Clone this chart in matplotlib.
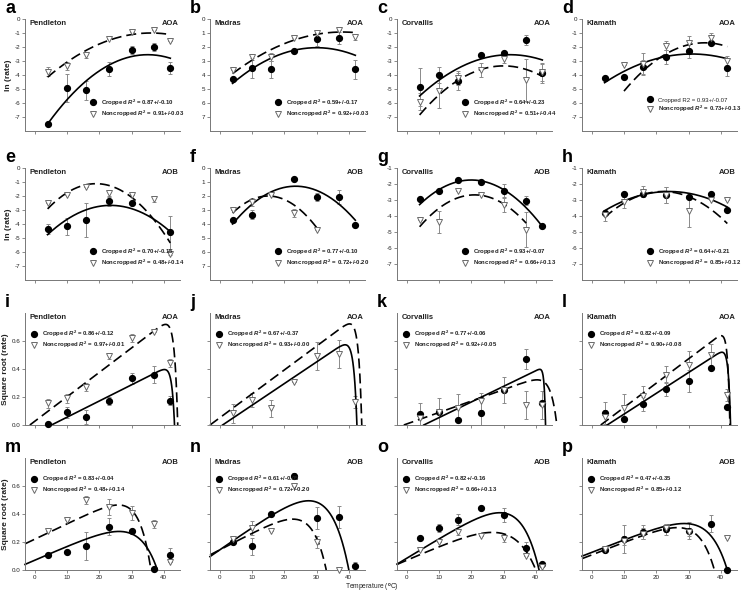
import numpy as np
import matplotlib
matplotlib.use('Agg')
import matplotlib.pyplot as plt

plt.rcParams['font.family'] = ['Liberation Sans', 'DejaVu Sans']
plt.rcParams['mathtext.fontset'] = 'custom'
plt.rcParams['mathtext.it'] = 'Liberation Sans:italic:bold'
plt.rcParams['mathtext.rm'] = 'Liberation Sans:bold'

nan = np.nan
temps = [4, 10, 16, 23, 30, 37, 42]

# ---- row 1: ln(rate), AOA ----
a_crop = [-7.5, -4.95, -5.1, -3.55, -2.2, -2.0, -3.5]
a_crop_err = [0, 1.0, 0.7, 0.5, 0.3, 0.3, 0.45]
a_non = [-3.75, -3.35, -2.55, -1.45, -0.95, -0.8, -1.6]
a_non_err = [0.35, 0.3, 0.2, 0, 0, 0, 0]

b_crop = [-4.25, -3.5, -3.6, -2.3, -1.45, -1.35, -3.6]
b_crop_err = [0, 0.7, 0.6, 0, 0.45, 0.4, 0.7]
b_non = [-3.65, -2.7, -2.7, -1.35, -1.0, -0.75, -1.3]
b_non_err = [0, 0.2, 0.3, 0, 0, 0, 0.2]

c_crop = [-4.85, -4.0, -4.45, -2.6, -2.45, -1.5, -3.85]
c_crop_err = [1.35, 0.6, 0.6, 0, 0, 0.35, 0.7]
c_non = [-5.9, -5.15, -4.2, -3.65, -2.85, -4.35, -3.8]
c_non_err = [0.6, 1.2, 0.5, 0.5, 0.3, 1.5, 0.6]

d_crop = [-4.2, -4.15, -3.4, -2.7, -2.3, -1.7, -3.5]
d_crop_err = [0, 0, 0.5, 0.5, 0.5, 0, 0.6]
d_non = [nan, -3.3, -3.2, -1.9, -1.7, -1.35, -3.0]
d_non_err = [0, 0, 0.8, 0.3, 0.5, 0.35, 0.35]

# ---- row 2: ln(rate), AOB ----
e_crop = [-4.33, -4.17, -3.7, -2.38, -2.5, nan, -4.6]
e_crop_err = [0.35, 0.6, 1.2, 0.3, 0, 0, 1.2]
e_non = [-2.5, -1.95, -1.38, -1.8, -1.95, -2.2, -6.15]
e_non_err = [0, 0, 0, 0.2, 0, 0.2, 0.1]

f_crop = [-3.68, -3.33, nan, -0.78, -2.07, -2.07, -4.04]
f_crop_err = [0, 0.3, 0, 0, 0.3, 0.5, 0]
f_non = [-3.0, -2.45, -1.9, -3.2, -4.4, nan, nan]
f_non_err = [0, 0.3, 0, 0.3, 0, 0, 0]

g_crop = [-2.93, -2.41, -1.78, -1.88, -2.41, -3.04, -4.64]
g_crop_err = [0, 0, 0, 0, 0.4, 0.3, 0]
g_non = [-4.26, -4.37, -2.43, -2.68, -3.32, -4.85, nan]
g_non_err = [0, 0.7, 0, 0, 0.45, 1.1, 0]

h_crop = [-3.84, -2.64, -2.64, -2.68, -2.83, -2.64, -3.63]
h_crop_err = [0, 0, 0, 0.5, 0, 0, 0]
h_non = [-3.95, -3.15, -2.47, -2.68, -3.69, -3.0, -3.0]
h_non_err = [0.35, 0.35, 0.35, 0.5, 1.0, 0, 0]

# ---- row 3: square root (rate), AOA ----
i_crop = [0.005, 0.09, 0.055, 0.17, 0.335, 0.36, 0.175]
i_crop_err = [0, 0.04, 0.05, 0.03, 0.04, 0.06, 0.03]
i_non = [0.155, 0.19, 0.27, 0.49, 0.62, 0.665, 0.445]
i_non_err = [0.03, 0.03, 0.03, 0.02, 0.03, 0, 0.03]

j_crop = [nan] * 7
j_crop_err = [0] * 7
j_non = [0.083, 0.178, 0.12, 0.31, 0.49, 0.51, 0.165]
j_non_err = [0.07, 0.05, 0.06, 0, 0.1, 0.1, 0.04]

k_crop = [0.076, 0.09, 0.036, 0.088, 0.25, 0.47, 0.155]
k_crop_err = [0.08, 0, 0, 0.1, 0, 0.07, 0]
k_non = [0.048, 0.09, 0.125, 0.17, 0.25, 0.14, 0.145]
k_non_err = [0, 0.1, 0.1, 0.06, 0.09, 0.1, 0.1]

l_crop = [0.083, 0.04, 0.147, 0.257, 0.316, 0.41, 0.13]
l_crop_err = [0.08, 0, 0.05, 0.05, 0.08, 0, 0]
l_non = [0.06, 0.12, 0.207, 0.36, 0.43, 0.5, 0.214]
l_non_err = [0.05, 0.1, 0.07, 0.06, 0.1, 0.08, 0.04]

# ---- row 4: square root (rate), AOB ----
m_crop = [0.11, 0.13, 0.17, 0.31, 0.28, 0.01, 0.11]
m_crop_err = [0, 0, 0.1, 0.06, 0, 0, 0.05]
m_non = [0.28, 0.36, 0.5, 0.45, 0.41, 0.33, 0.06]
m_non_err = [0, 0, 0.03, 0.06, 0.05, 0.03, 0]

n_crop = [0.2, 0.17, 0.4, 0.67, 0.37, 0.38, 0.03]
n_crop_err = [0, 0.06, 0, 0.02, 0.08, 0.08, 0.03]
n_non = [0.22, 0.3, 0.28, 0.6, 0.2, 0.0, nan]
n_non_err = [0, 0.05, 0, 0, 0.04, 0, 0]

o_crop = [0.23, 0.3, 0.36, 0.44, 0.39, 0.16, 0.04]
o_crop_err = [0, 0.03, 0.04, 0, 0.05, 0.04, 0]
o_non = [0.14, 0.2, 0.27, 0.24, 0.23, 0.1, 0.02]
o_non_err = [0, 0, 0.02, 0, 0.03, 0, 0]

p_crop = [0.14, 0.22, 0.27, 0.29, 0.28, 0.33, 0.0]
p_crop_err = [0, 0.1, 0.05, 0.04, 0.06, 0.06, 0]
p_non = [0.15, 0.21, 0.26, 0.3, 0.27, nan, 0.23]
p_non_err = [0, 0.03, 0.04, 0.03, 0.03, 0, 0]

# fitted curves: ln panels -> (T at peak, peak value, curvature)
ln_fit_crop = {'a': (35, -2.55, 0.00515), 'b': (30, -2.05, 0.00377),
               'c': (32, -2.55, 0.00376), 'd': (31, -2.5, 0.00281),
               'e': (23.5, -2.67, 0.0055), 'f': (23.5, -1.3, 0.0071),
               'g': (20, -1.75, 0.006), 'h': (24, -2.47, 0.003)}
ln_fit_non = {'a': (36, -1.0, 0.00308), 'b': (38, -0.93, 0.00257),
              'c': (30, -3.35, 0.00518), 'd': (35, -1.7, 0.00552),
              'e': (19, -1.12, 0.008), 'f': (15, -2.0, 0.01),
              'g': (21, -2.68, 0.0069), 'h': (22, -2.47, 0.005)}
# sqrt panels -> Ratkowsky (b, Tmin, c, Tmax)
sq_fit_crop = {'i': (0.0116, 5.2, 1.2, 43.3), 'j': (0.0155, 0.9, 1.0, 42.5),
               'k': (0.0112, 5.3, 2.5, 43.0), 'l': (0.0149, 4.8, 1.5, 43.0),
               'm': (0.010, -7, 0.15, 38), 'n': (0.016, -9, 0.15, 40),
               'o': (0.014, -6, 0.15, 41), 'p': (0.009, -14, 0.15, 42)}
sq_fit_non = {'i': (0.0175, -1.5, 1.0, 44.3), 'j': (0.0171, -3, 1.0, 44.0),
              'k': (0.0082, -0.9, 0.5, 46.5), 'l': (0.0174, 2.8, 1.5, 42.8),
              'm': (0.011, -20, 0.25, 36), 'n': (0.012, -12, 0.2, 33),
              'o': (0.010, -7, 0.12, 40), 'p': (0.009, -12, 0.18, 38)}

r2_crop = ['0.87+/-0.10', '0.59+/-0.17', '0.64+/-0.23', '0.93+/-0.07',
           '0.70+/-0.15', '0.77+/-0.10', '0.93+/-0.07', '0.64+/-0.21',
           '0.86+/-0.12', '0.67+/-0.37', '0.77+/-0.06', '0.82+/-0.09',
           '0.83+/-0.04', '0.61+/-0.05', '0.82+/-0.16', '0.47+/-0.35']
r2_non = ['0.91+/-0.03', '0.92+/-0.03', '0.51+/-0.44', '0.73+/-0.13',
          '0.48+/-0.14', '0.72+/-0.20', '0.66+/-0.13', '0.85+/-0.12',
          '0.97+/-0.01', '0.93+/-0.00', '0.92+/-0.05', '0.90+/-0.08',
          '0.48+/-0.14', '0.72+/-0.20', '0.66+/-0.13', '0.85+/-0.12']

letters = 'abcdefghijklmnop'
sites = ['Pendleton', 'Madras', 'Corvallis', 'Klamath']
groups = ['AOA', 'AOB', 'AOA', 'AOB']

data = {}
for L in letters:
    g = globals()
    data[L] = (g[L + '_crop'], g[L + '_crop_err'], g[L + '_non'], g[L + '_non_err'])

W, H = 745, 593
fig = plt.figure(figsize=(W / 100, H / 100), dpi=100)

col_left = [25, 210, 397, 582]
row_top = [19, 168, 313, 458]
ax_w, ax_h = 155, 112
XLIM = (-3, 45)
TXT = '#222222'

for idx, L in enumerate(letters):
    r, c = divmod(idx, 4)
    left = col_left[c] / W
    bottom = 1 - (row_top[r] + ax_h) / H
    ax = fig.add_axes([left, bottom, ax_w / W, ax_h / H])
    crop, crop_err, non, non_err = data[L]
    T = np.array(temps, dtype=float)
    crop = np.array(crop, dtype=float)
    non = np.array(non, dtype=float)

    # fitted curves
    for vals, fits, ls in ((crop, ln_fit_crop if r < 2 else sq_fit_crop, '-'),
                           (non, ln_fit_non if r < 2 else sq_fit_non, '--')):
        p = fits[L]
        if r < 2:
            ok = ~np.isnan(vals)
            xs = np.linspace(T[ok].min(), T[ok].max(), 200)
            ys = p[1] - p[2] * (xs - p[0]) ** 2
        else:
            b, tmin, cc, tmax = p
            xs = np.linspace(max(tmin, XLIM[0]), tmax, 400)
            ys = b * (xs - tmin) * (1 - np.exp(cc * (xs - tmax)))
            ys = np.clip(ys, 0, None)
        line, = ax.plot(xs, ys, color='black', lw=1.2, ls=ls, clip_on=False, zorder=2)
        if ls == '--':
            line.set_dashes((6, 3))

    ax.errorbar(T, crop, yerr=crop_err, fmt='none', ecolor='#8a8a8a',
                elinewidth=0.7, capsize=1.5, capthick=0.7, zorder=1)
    ax.errorbar(T, non, yerr=non_err, fmt='none', ecolor='#8a8a8a',
                elinewidth=0.7, capsize=1.5, capthick=0.7, zorder=1)
    h1, = ax.plot(T, crop, 'o', color='black', ms=4.2, ls='none', zorder=3, clip_on=False)
    h2, = ax.plot(T, non, 'v', mfc='white', mec='#6a6a6a', mew=0.7, ms=5,
                  ls='none', zorder=4, clip_on=False)

    ax.set_xlim(*XLIM)
    ax.set_xticks([0, 10, 20, 30, 40])
    if r < 2:
        if c >= 2 and r == 1:
            ax.set_ylim(-8, -1)
            yt = [-1, -2, -3, -4, -5, -6, -7]
        else:
            ax.set_ylim(-8, 0)
            yt = [0, -1, -2, -3, -4, -5, -6, -7]
        ax.set_yticks(yt)
        if c == 1:
            ax.set_yticklabels([str(abs(v)) for v in yt])
        else:
            ax.set_yticklabels([str(v) for v in yt])
    else:
        ax.set_ylim(0, 0.8)
        ax.set_yticks([0, 0.2, 0.4, 0.6])
        if c == 0:
            ax.set_yticklabels(['0.0', '0.2', '0.4', '0.6'])
        else:
            ax.set_yticklabels([])
    if r < 3:
        ax.set_xticklabels([])

    for s in ('top', 'right'):
        ax.spines[s].set_visible(False)
    for s in ('left', 'bottom'):
        ax.spines[s].set_color('#777777')
        ax.spines[s].set_linewidth(0.7)
    ax.tick_params(direction='out', length=2, width=0.6, color='#777777',
                   labelsize=4.5, pad=1.5, labelcolor=TXT)

    if c == 0:
        ax.set_ylabel('ln (rate)' if r < 2 else 'Square root (rate)',
                      fontsize=6, fontweight='bold', color=TXT, labelpad=2)

    ax.text(0.03, 0.99, sites[c], transform=ax.transAxes, fontsize=5.5,
            fontweight='bold', va='top', ha='left', color=TXT)
    ax.text(0.99, 0.99, groups[r], transform=ax.transAxes, fontsize=5.5,
            fontweight='bold', va='top', ha='right', color=TXT)

    lab1 = 'Cropped $R^2$ = ' + r2_crop[idx]
    if L == 'd':
        lab1 = 'Cropped R2 = ' + r2_crop[idx]
    lab2 = 'Noncropped $R^2$ = ' + r2_non[idx]
    if r < 2:
        anchor = (0.42, 0.30)
    else:
        anchor = (0.04, 0.86)
    leg = ax.legend([h1, h2], [lab1, lab2], loc='upper left', bbox_to_anchor=anchor,
                    frameon=False, fontsize=4.3, handlelength=1.0, handletextpad=0.8,
                    labelspacing=0.2, borderaxespad=0, borderpad=0)
    for t in leg.get_texts():
        t.set_fontweight('bold')
        t.set_color(TXT)
    if L == 'd':
        leg.get_texts()[0].set_fontweight('normal')

    fig.text((col_left[c] - 20) / W, 1 - (row_top[r] - 19) / H, L, fontsize=13,
             fontweight='bold', va='top', ha='left')

fig.text(372 / W, 1 - 588 / H, 'Temperature ($^\\mathrm{o}$C)', ha='center', va='center',
         fontsize=4.8, color=TXT)

fig.savefig('out.png', dpi=100)
